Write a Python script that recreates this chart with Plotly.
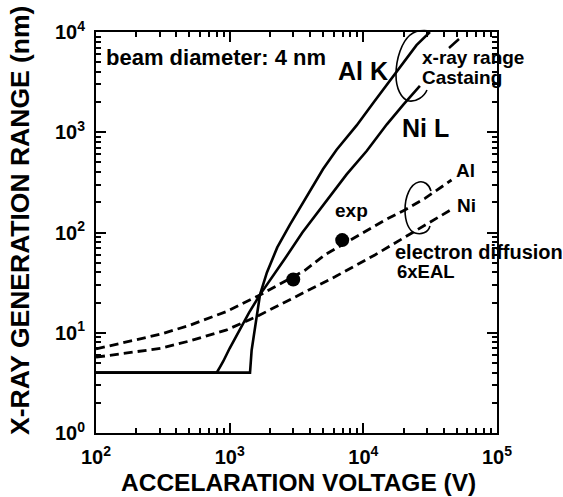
import plotly.graph_objects as go

# ---- data ----
alk_voltage = [100, 1420, 1460, 1540, 1687, 1900, 2270, 2825, 3873, 5000, 6310, 8910, 12000, 18240, 25000, 31500]
alk_range   = [4, 4, 6.7, 11, 24, 40, 71, 120, 245, 430, 670, 1170, 2000, 4200, 7400, 10000]

nil_voltage = [100, 800, 850, 896, 1000, 1200, 1400, 1687, 2000, 2594, 3500, 5370, 7500, 10590, 15000, 20000, 26500]
nil_range   = [4, 4, 4.6, 5.2, 7, 11, 16, 24, 33, 55, 100, 210, 380, 650, 1200, 1900, 2900]

al_diff_voltage = [100, 306, 505, 938, 1687, 3656, 5160, 9700, 14500, 20460, 28900, 45700]
al_diff_range   = [6.9, 9.7, 11.9, 16.2, 23.8, 42, 60, 98, 133, 168, 219, 334]

ni_diff_voltage = [100, 306, 505, 938, 1592, 3656, 6140, 12200, 24300, 45700]
ni_diff_range   = [5.7, 7.0, 8.3, 10.6, 14.5, 25.5, 36.2, 59.7, 102, 170]

exp_voltage = [2990, 6950]
exp_range   = [34, 84]

x_tickvals = [1e2, 1e3, 1e4, 1e5]
x_ticktext = ["10<sup>2</sup>", "10<sup>3</sup>", "10<sup>4</sup>", "10<sup>5</sup>"]
y_tickvals = [1e0, 1e1, 1e2, 1e3, 1e4]
y_ticktext = ["10<sup>0</sup>", "10<sup>1</sup>", "10<sup>2</sup>", "10<sup>3</sup>", "10<sup>4</sup>"]

FONT = "Liberation Sans, Arial, Helvetica, sans-serif"

# geometry of the plot area in pixels (for paper-coordinate conversion)
W, H = 563, 497
L, R, T, B = 96, 497, 32, 433
def px(xp, yp):
    return (xp - L) / (R - L), (B - yp) / (B - T)

fig = go.Figure()
line_w = 2.6
fig.add_trace(go.Scatter(x=alk_voltage, y=alk_range, mode="lines",
                         line=dict(color="black", width=line_w), name="Al K"))
fig.add_trace(go.Scatter(x=nil_voltage, y=nil_range, mode="lines",
                         line=dict(color="black", width=line_w), name="Ni L"))
fig.add_trace(go.Scatter(x=al_diff_voltage, y=al_diff_range, mode="lines",
                         line=dict(color="black", width=2.8, dash="9px,5px"), name="Al"))
fig.add_trace(go.Scatter(x=ni_diff_voltage, y=ni_diff_range, mode="lines",
                         line=dict(color="black", width=2.8, dash="9px,5px"), name="Ni"))
fig.add_trace(go.Scatter(x=exp_voltage, y=exp_range, mode="markers",
                         marker=dict(color="black", size=14), name="exp"))

minor_x = [m * 10 ** d for d in range(2, 5) for m in range(2, 10)]
minor_y = [m * 10 ** d for d in range(0, 4) for m in range(2, 10)]

axis_common = dict(
    type="log", showgrid=False, zeroline=False,
    showline=True, linecolor="black", linewidth=2, mirror="ticks",
    ticks="inside", ticklen=10, tickwidth=2, tickcolor="black",
    tickmode="array",
    tickfont=dict(family=FONT, size=20, color="black", weight="bold"),
)
fig.update_xaxes(range=[2, 5], tickvals=x_tickvals, ticktext=x_ticktext,
                 ticklabelstandoff=5,
                 minor=dict(tickmode="array", tickvals=minor_x, ticks="inside",
                            ticklen=5, tickwidth=1.5, tickcolor="black", showgrid=False),
                 **axis_common)
fig.update_yaxes(range=[0, 4], tickvals=y_tickvals, ticktext=y_ticktext,
                 ticklabelstandoff=5,
                 minor=dict(tickmode="array", tickvals=minor_y, ticks="inside",
                            ticklen=5, tickwidth=1.5, tickcolor="black", showgrid=False),
                 **axis_common)

def ann(text, xp, yp, size=19, anchor="left"):
    x, y = px(xp, yp)
    return dict(text=text, x=x, y=y, xref="paper", yref="paper", showarrow=False,
                xanchor=anchor, yanchor="middle",
                font=dict(family=FONT, size=size, color="black", weight="bold"))

annotations = [
    ann("beam diameter: 4 nm", 104, 57, size=22),
    ann("Al K", 363, 71, size=25, anchor="center"),
    ann("Ni L", 425, 128, size=25, anchor="center"),
    ann("x-ray range", 420, 58),
    ann("Castaing", 420, 77),
    ann("Al", 454, 170),
    ann("Ni", 455, 206),
    ann("exp", 351, 211, anchor="center"),
    ann("electron diffusion", 393, 252, size=20),
    ann("6xEAL", 395, 271, size=18.5),
]
tx, ty = px(298, 497)
annotations.append(dict(text="ACCELARATION VOLTAGE (V)", x=tx, y=ty, xref="paper", yref="paper",
                        showarrow=False, xanchor="center", yanchor="bottom", borderpad=0,
                        font=dict(family=FONT, size=24.5, color="black", weight="bold")))
tx, ty = px(20, 221)
annotations.append(dict(text="X-RAY GENERATION RANGE (nm)", x=tx, y=ty, xref="paper", yref="paper",
                        showarrow=False, xanchor="center", yanchor="middle", textangle=-90,
                        font=dict(family=FONT, size=26.5, color="black", weight="bold")))

def path(points_cmd):
    out = []
    for tok in points_cmd:
        if isinstance(tok, str):
            out.append(tok)
        else:
            x, y = px(*tok)
            out.append(f"{x:.4f},{y:.4f}")
    return " ".join(out)

castaing_bracket = path(["M", (427, 90), "C", (424, 97), (416, 102), (409, 101),
                         "C", (401, 99), (396, 88), (396, 75),
                         "C", (396, 58), (402, 42), (410, 35),
                         "C", (415, 31), (423, 30), (430, 31)])
diffusion_bracket = path(["M", (431, 191), "C", (429, 184), (424, 181), (419, 182),
                          "C", (410, 184), (405, 197), (405, 210),
                          "C", (405, 222), (409, 231), (415, 233),
                          "C", (421, 235), (428, 233), (430, 226)])
x0, y0 = px(449, 48)
x1, y1 = px(459, 39)
shapes = [
    dict(type="path", path=castaing_bracket, xref="paper", yref="paper",
         line=dict(color="black", width=1.6)),
    dict(type="path", path=diffusion_bracket, xref="paper", yref="paper",
         line=dict(color="black", width=1.6)),
    dict(type="line", x0=x0, y0=y0, x1=x1, y1=y1, xref="paper", yref="paper",
         line=dict(color="black", width=2.5)),
]

fig.update_layout(
    width=W, height=H,
    margin=dict(l=L, r=W - R, t=T, b=H - B),
    paper_bgcolor="white", plot_bgcolor="white",
    showlegend=False,
    annotations=annotations, shapes=shapes,
    font=dict(family=FONT, color="black"),
)

fig.write_html("out.html", config={"displayModeBar": False},
               post_script="document.body.style.margin='0px';document.body.style.overflow='hidden';")
